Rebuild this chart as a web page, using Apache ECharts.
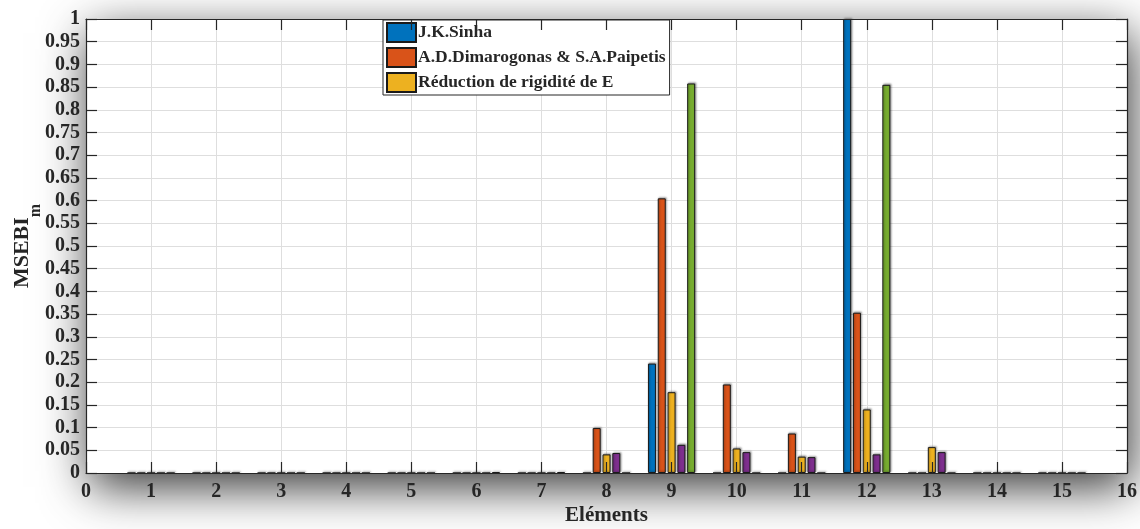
<!DOCTYPE html>
<html>
<head>
<meta charset="utf-8">
<script src="https://cdn.jsdelivr.net/npm/echarts@6/dist/echarts.min.js"></script>
<style>
html,body{margin:0;padding:0;background:#fff;}
#chart{width:1140px;height:529px;}
</style>
</head>
<body>
<div id="chart"></div>
<script>
// Elements (categories)
const categories = [1, 2, 3, 4, 5, 6, 7, 8, 9, 10, 11, 12, 13, 14, 15];
// Series values (MSEBI_m)
const sinha       = [0, 0, 0, 0, 0, 0, 0, 0, 0.241, 0, 0, 1.0, 0, 0, 0];
const dimarogonas = [0, 0, 0, 0, 0, 0, 0, 0.099, 0.605, 0.195, 0.087, 0.353, 0, 0, 0];
const rigidite    = [0, 0, 0, 0, 0, 0, 0, 0.041, 0.178, 0.054, 0.036, 0.140, 0.057, 0, 0];
const serie4      = [0, 0, 0, 0, 0, 0, 0, 0.044, 0.062, 0.046, 0.035, 0.041, 0.046, 0, 0];
const serie5      = [0, 0, 0, 0, 0, 0.002, 0.002, 0, 0.858, 0, 0, 0.855, 0, 0, 0];
// Tick labels
const xTickLabels = ['0','1','2','3','4','5','6','7','8','9','10','11','12','13','14','15','16'];
const yTickLabels = ['0','0.05','0.1','0.15','0.2','0.25','0.3','0.35','0.4','0.45','0.5','0.55','0.6','0.65','0.7','0.75','0.8','0.85','0.9','0.95','1'];

const names = ['J.K.Sinha', 'A.D.Dimarogonas & S.A.Paipetis', 'Réduction de rigidité de E', 'Série 4', 'Série 5'];
const colors = ['#0072BD', '#D95319', '#EDB120', '#7E2F8E', '#77AC30'];
const values = [sinha, dimarogonas, rigidite, serie4, serie5];

const FONT = 'Liberation Serif';
const TXT = '#262626';

const chart = echarts.init(document.getElementById('chart'), null, {renderer: 'canvas'});

function xAx(extra) {
  return Object.assign({
    type: 'value', min: 0, max: 16, interval: 1, gridIndex: 0,
    axisLine: {show: false, onZero: false},
    axisTick: {show: false},
    axisLabel: {show: false},
    splitLine: {show: false}
  }, extra);
}
function yAx(extra) {
  return Object.assign({
    type: 'value', min: 0, max: 1, interval: 0.05, gridIndex: 0,
    axisLine: {show: false, onZero: false},
    axisTick: {show: false},
    axisLabel: {show: false},
    splitLine: {show: false}
  }, extra);
}
const lineStyle = {color: TXT, width: 1.2};
const tickStyle = {show: true, inside: true, length: 11, lineStyle: {color: TXT, width: 1.2}};

const option = {
  animation: false,
  backgroundColor: '#ffffff',
  grid: {
    left: 86, right: 13, top: 19, bottom: 56,
    containLabel: false,
    outerBoundsMode: 'none',
    show: true, backgroundColor: '#ffffff', borderWidth: 0,
    shadowBlur: 45, shadowColor: 'rgba(0,0,0,0.8)', shadowOffsetX: 4, shadowOffsetY: 14
  },
  legend: {
    data: names.slice(0, 3),
    orient: 'vertical',
    left: 383, top: 20,
    padding: [2, 4, 2, 3],
    itemWidth: 29, itemHeight: 19, itemGap: 4,
    icon: 'rect',
    backgroundColor: '#ffffff',
    borderColor: TXT, borderWidth: 1, borderRadius: 0,
    selectedMode: false,
    textStyle: {fontFamily: FONT, fontWeight: 'bold', fontSize: 17.5, color: TXT, padding: [0, 0, 0, -3]}
  },
  xAxis: [
    xAx({
      position: 'bottom', z: 0,
      splitLine: {show: true, lineStyle: {color: '#dedede', width: 1}},
      axisLabel: {show: true, margin: 9, fontFamily: FONT, fontWeight: 'bold', fontSize: 20, color: TXT,
        formatter: function (v) { return xTickLabels[Math.round(v)]; }},
      name: 'Eléments', nameLocation: 'middle', nameGap: 32, nameMoveOverlap: false,
      nameTextStyle: {fontFamily: FONT, fontWeight: 'bold', fontSize: 21, color: TXT}
    }),
    xAx({position: 'bottom', z: 10, axisLine: {show: true, onZero: false, lineStyle: lineStyle}, axisTick: tickStyle}),
    xAx({position: 'top', z: 10, axisLine: {show: true, onZero: false, lineStyle: lineStyle}, axisTick: tickStyle})
  ],
  yAxis: [
    yAx({
      position: 'left', z: 0,
      splitLine: {show: true, lineStyle: {color: '#dedede', width: 1}},
      axisLabel: {show: true, margin: 6, fontFamily: FONT, fontWeight: 'bold', fontSize: 20, color: TXT,
        formatter: function (v) { return yTickLabels[Math.round(v * 20)]; }},
      name: '{a|MSEBI}{b|m}', nameLocation: 'middle', nameGap: 53, nameRotate: 90, nameMoveOverlap: false,
      nameTextStyle: {
        color: TXT,
        rich: {
          a: {fontFamily: FONT, fontWeight: 'bold', fontSize: 22, lineHeight: 22, verticalAlign: 'top', color: TXT},
          b: {fontFamily: FONT, fontWeight: 'bold', fontSize: 16, lineHeight: 16, verticalAlign: 'top', padding: [17, 0, 0, 0], color: TXT}
        }
      }
    }),
    yAx({position: 'left', z: 10, axisLine: {show: true, onZero: false, lineStyle: lineStyle}, axisTick: tickStyle}),
    yAx({position: 'right', z: 10, axisLine: {show: true, onZero: false, lineStyle: lineStyle}, axisTick: tickStyle})
  ],
  series: values.map(function (vals, i) {
    return {
      name: names[i],
      type: 'bar',
      xAxisIndex: 0, yAxisIndex: 0,
      barWidth: 8,
      barGap: '22.5%',
      data: categories.map(function (c, j) { return [c, vals[j]]; }),
      itemStyle: {
        color: colors[i], borderColor: '#1a1a1a', borderWidth: 1,
        shadowColor: 'rgba(0,0,0,0.35)', shadowBlur: 2, shadowOffsetX: 1, shadowOffsetY: -1
      },
      emphasis: {disabled: true}
    };
  })
};
chart.setOption(option);
</script>
</body>
</html>
